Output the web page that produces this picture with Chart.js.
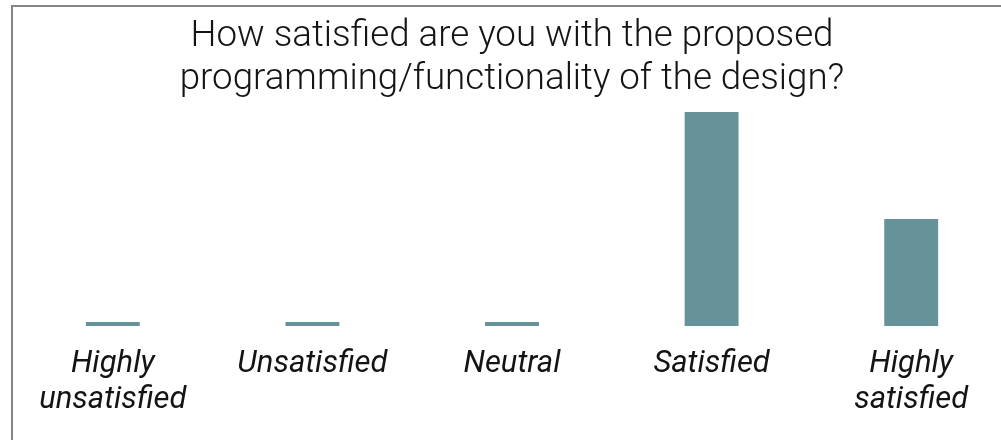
<!DOCTYPE html>
<html>
<head>
<meta charset="utf-8">
<script src="https://cdn.jsdelivr.net/npm/chart.js@4.4.1/dist/chart.umd.min.js"></script>
<style>
  html, body { margin: 0; padding: 0; background: #fff; overflow: hidden; }
  .card {
    position: absolute;
    left: 11px;
    top: 5px;
    width: 998px;
    height: 450px;
    border: 2px solid #858585;
    border-right: none;
    border-bottom: none;
    background: #fff;
  }
</style>
</head>
<body>
<div class="card">
  <canvas id="satisfaction-chart"></canvas>
</div>
<script>
// Survey answers
const categories = [
  ['Highly', 'unsatisfied'],
  'Unsatisfied',
  'Neutral',
  'Satisfied',
  ['Highly', 'satisfied'],
];
const responses = [0, 0, 0, 2, 1];
const titleLines = [
  'How satisfied are you with the proposed',
  'programming/functionality of the design?',
];

const barColor = '#66929a';
const textColor = '#141414';

const ctx = document.getElementById('satisfaction-chart');
ctx.width = 998;
ctx.height = 445;

new Chart(ctx, {
  type: 'bar',
  data: {
    labels: categories,
    datasets: [
      {
        label: 'Responses',
        data: responses,
        backgroundColor: barColor,
        borderWidth: 0,
        categoryPercentage: 1,
        barPercentage: 0.27,
        minBarLength: 4,
      },
    ],
  },
  options: {
    responsive: false,
    animation: false,
    layout: {
      padding: { top: 0, bottom: 14, left: 0, right: 0 },
    },
    scales: {
      y: {
        display: false,
        min: 0,
        max: 2,
      },
      x: {
        border: { display: false },
        grid: { display: false, drawTicks: false },
        ticks: {
          color: textColor,
          padding: 20,
          maxRotation: 0,
          autoSkip: false,
          font: { family: 'Roboto', size: 31, style: 'italic', lineHeight: 1.16 },
        },
      },
    },
    plugins: {
      legend: { display: false },
      tooltip: { enabled: false },
      title: {
        display: true,
        text: titleLines,
        color: textColor,
        font: { family: 'Roboto', size: 36.7, weight: 300, lineHeight: 1.17 },
        padding: { top: 8, bottom: 11 },
      },
    },
  },
});
</script>
</body>
</html>
